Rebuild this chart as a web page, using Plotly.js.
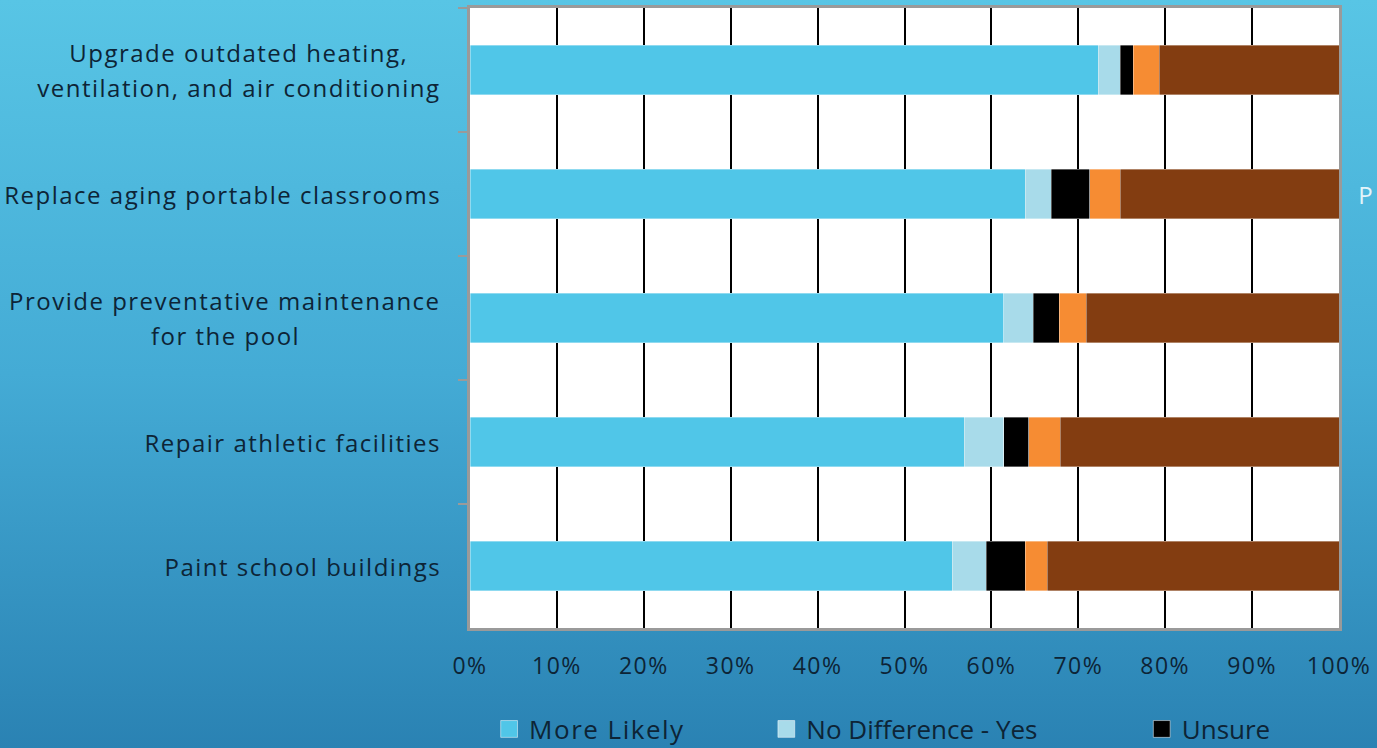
<!DOCTYPE html>
<html>
<head>
<meta charset="utf-8">
<script src="https://cdn.plot.ly/plotly-3.0.1.min.js"></script>
<style>
  html, body { margin: 0; padding: 0; width: 1377px; height: 748px; overflow: hidden; }
  body { background: linear-gradient(to bottom, #58c5e5 0%, #44abd5 50%, #2a82b3 100%); }
  #chart { width: 1377px; height: 748px; }
  #chart .annotation-text, #chart .legendtext, #chart .xtick text { letter-spacing: 1.5px; }
  #chart .legendpoints path { transform: translate(20px, 0px) scale(1.4); }
</style>
</head>
<body>
<div id="chart"></div>
<script>
const categories = [
  "Upgrade outdated heating,<br>ventilation, and air conditioning",
  "Replace aging portable classrooms",
  "Provide preventative maintenance<br>for the pool",
  "Repair athletic facilities",
  "Paint school buildings"
];
const moreLikely     = [72.3, 63.9, 61.4, 56.9, 55.5];
const noDiffYes      = [2.5, 3.0, 3.4, 4.5, 3.9];
const unsure         = [1.5, 4.4, 3.0, 2.9, 4.5];
const orangeSeries   = [3.0, 3.5, 3.1, 3.6, 2.5];
const brownSeries    = [20.7, 25.2, 29.1, 32.1, 33.6];
const seriesNames    = ["More Likely", "No Difference - Yes", "Unsure", "No Difference - No", "Less Likely"];
const xTickVals      = [0, 10, 20, 30, 40, 50, 60, 70, 80, 90, 100];
const xTickText      = ["0%", "10%", "20%", "30%", "40%", "50%", "60%", "70%", "80%", "90%", "100%"];

const colors = ["#50c6e8", "#a8dbea", "#000000", "#f68c33", "#833d11"];
const allSeries = [moreLikely, noDiffYes, unsure, orangeSeries, brownSeries];
const legendIds = ["legend", "legend2", "legend3", null, null];

const traces = allSeries.map((vals, i) => {
  const t = {
    type: "bar",
    orientation: "h",
    name: seriesNames[i],
    y: categories,
    x: vals,
    marker: { color: colors[i], line: { color: "rgba(255,255,255,0.6)", width: 0.6 } },
    hovertemplate: "%{x}%<extra>" + seriesNames[i] + "</extra>"
  };
  if (legendIds[i]) { t.legend = legendIds[i]; t.showlegend = true; }
  else { t.showlegend = false; }
  return t;
});

const textColor = "#0d2436";
const fontFamily = "Open Sans, sans-serif";
const labelSize = 24;
const labelFont = { family: fontFamily, size: labelSize, color: textColor };
const legendFont = { family: fontFamily, size: 26, color: textColor };

// measure text width (with letter spacing) to centre multi-line labels
const cv = document.createElement("canvas").getContext("2d");
cv.font = labelSize + "px 'Open Sans'";
function textWidth(s) {
  return cv.measureText(s).width + s.length * 1.5;
}

const plotLeft = 470, plotWidth = 869;
const labelRight = 441;     // px, right edge of label block
const lineGap = 35;         // px between label lines

const annotations = [];
categories.forEach(c => {
  const lines = c.split("<br>");
  const maxW = Math.max(...lines.map(textWidth));
  const centerPx = labelRight - maxW / 2;
  lines.forEach((ln, j) => {
    annotations.push({
      xref: "paper", yref: "y",
      x: (centerPx - plotLeft) / plotWidth, y: c,
      xanchor: "center", yanchor: "middle",
      yshift: -(j - (lines.length - 1) / 2) * lineGap,
      text: ln, showarrow: false, font: labelFont
    });
  });
});
annotations.push({
  xref: "paper", yref: "y", x: 1, y: categories[1], xanchor: "left", yanchor: "middle",
  xshift: 19, text: "P", showarrow: false, borderpad: 0,
  font: { family: fontFamily, size: 24, color: "#e4f4fa" }
});

const legendBase = {
  orientation: "h", bgcolor: "rgba(0,0,0,0)", font: legendFont,
  yanchor: "middle", xanchor: "left", y: -0.163,
  entrywidth: 290, entrywidthmode: "pixels"
};

const layout = {
  width: 1377, height: 748,
  margin: { l: 470, r: 38, t: 8, b: 120, autoexpand: false },
  paper_bgcolor: "rgba(0,0,0,0)",
  plot_bgcolor: "#ffffff",
  barmode: "stack",
  bargap: 0.6,
  xaxis: {
    range: [0, 100],
    tickvals: xTickVals, ticktext: xTickText,
    showgrid: true, gridcolor: "#000000", gridwidth: 1.6,
    zeroline: false,
    showline: true, linecolor: "#9a9a9a", linewidth: 2.5, mirror: true,
    ticks: "", ticklabelstandoff: 16,
    tickfont: { family: fontFamily, size: 23, color: textColor },
    fixedrange: true
  },
  yaxis: {
    autorange: "reversed",
    type: "category",
    showticklabels: false,
    ticks: "outside", tickson: "boundaries", ticklen: 9, tickcolor: "#9a9a9a", tickwidth: 2,
    showgrid: false,
    showline: true, linecolor: "#9a9a9a", linewidth: 2.5, mirror: true,
    fixedrange: true
  },
  showlegend: true,
  legend: Object.assign({}, legendBase, { x: 0.022 }),
  legend2: Object.assign({}, legendBase, { x: 0.341 }),
  legend3: Object.assign({}, legendBase, { x: 0.773 }),
  annotations: annotations
};

Plotly.newPlot("chart", traces, layout, { displayModeBar: false });
</script>
</body>
</html>
